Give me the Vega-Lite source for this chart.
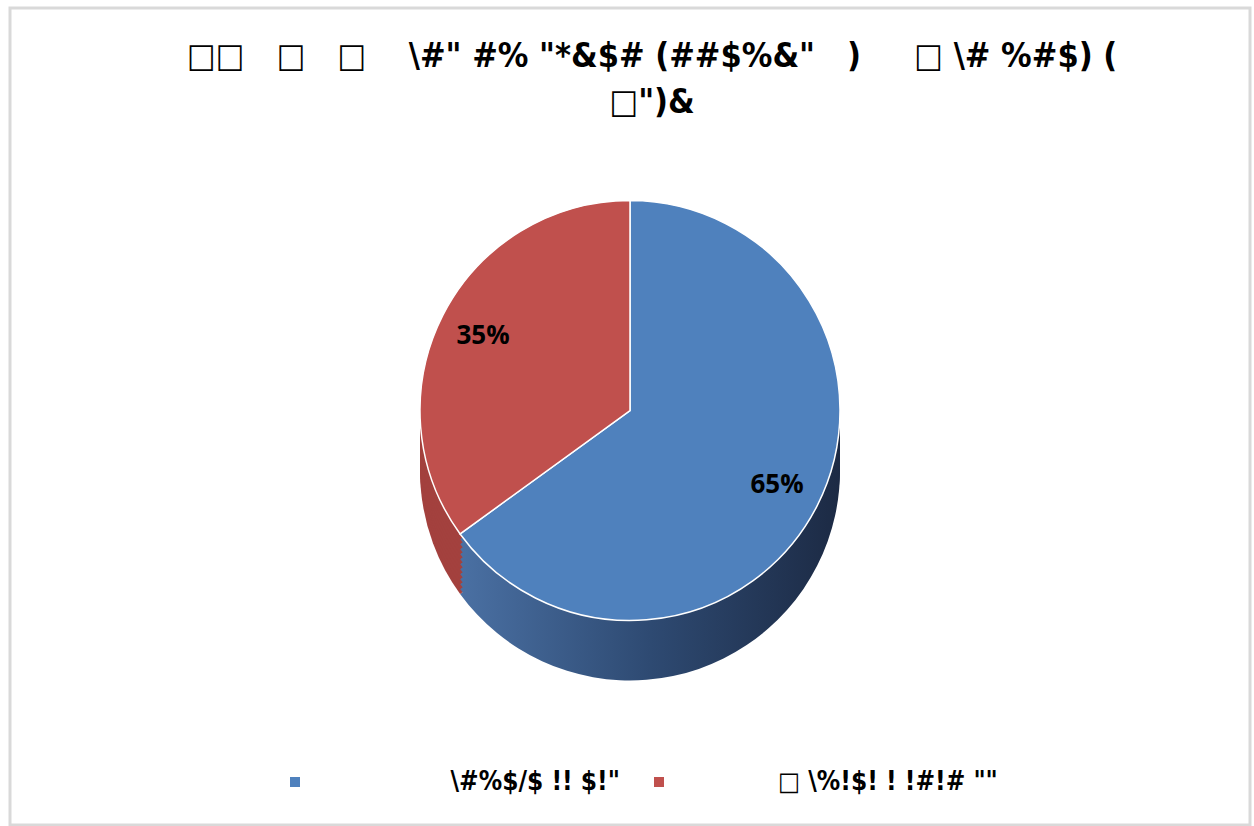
{
  "$schema": "https://vega.github.io/schema/vega-lite/v6.json",
  "width": 1254,
  "height": 826,
  "autosize": {"type": "fit", "contains": "padding"},
  "padding": {"left": 10, "top": 8, "right": 4, "bottom": 1},
  "background": "white",
  "view": {"stroke": "#D9D9D9", "strokeWidth": 3, "fill": "white"},
  "title": {
    "text": ["□□\u00a0\u00a0\u00a0□\u00a0\u00a0\u00a0□\u00a0\u00a0\u00a0\u00a0\\#\"\u00a0#%\u00a0\"*&$#\u00a0(##$%&\"\u00a0\u00a0\u00a0)\u00a0\u00a0\u00a0\u00a0\u00a0□\u00a0\\#\u00a0%#$)\u00a0(", "□\")&"],
    "font": "DejaVu Sans Condensed",
    "fontSize": 34,
    "fontWeight": "bold",
    "color": "black",
    "anchor": "middle",
    "lineHeight": 46,
    "offset": -112,
    "dx": 22
  },
  "data": {
    "values": [
      {"ord": 1, "label": "\u2800\u2800\\#%$/$\u00a0!!\u00a0$!\"", "value": 65, "pct": "65%"},
      {"ord": 2, "label": "□\u00a0\\%!$!\u00a0!\u00a0!#!#\u00a0\"\"", "value": 35, "pct": "35%"}
    ]
  },
  "layer": [
    {"mark": {"type": "arc", "radius": 210, "yOffset": 54}, "encoding": {"theta": {"field": "value", "type": "quantitative", "stack": true}, "order": {"field": "ord"}, "fill": {"condition": {"test": "datum.ord === 2", "value": "#A3413E"}, "value": {"gradient": "linear", "x1": 0, "x2": 1, "y1": 0, "y2": 0, "stops": [{"offset": 0, "color": "#4A70A3"}, {"offset": 0.5, "color": "#2E4A72"}, {"offset": 1, "color": "#1C2A44"}]}}}},
    {"mark": {"type": "arc", "radius": 210, "yOffset": 49}, "encoding": {"theta": {"field": "value", "type": "quantitative", "stack": true}, "order": {"field": "ord"}, "fill": {"condition": {"test": "datum.ord === 2", "value": "#A3413E"}, "value": {"gradient": "linear", "x1": 0, "x2": 1, "y1": 0, "y2": 0, "stops": [{"offset": 0, "color": "#4A70A3"}, {"offset": 0.5, "color": "#2E4A72"}, {"offset": 1, "color": "#1C2A44"}]}}}},
    {"mark": {"type": "arc", "radius": 210, "yOffset": 44}, "encoding": {"theta": {"field": "value", "type": "quantitative", "stack": true}, "order": {"field": "ord"}, "fill": {"condition": {"test": "datum.ord === 2", "value": "#A3413E"}, "value": {"gradient": "linear", "x1": 0, "x2": 1, "y1": 0, "y2": 0, "stops": [{"offset": 0, "color": "#4A70A3"}, {"offset": 0.5, "color": "#2E4A72"}, {"offset": 1, "color": "#1C2A44"}]}}}},
    {"mark": {"type": "arc", "radius": 210, "yOffset": 39}, "encoding": {"theta": {"field": "value", "type": "quantitative", "stack": true}, "order": {"field": "ord"}, "fill": {"condition": {"test": "datum.ord === 2", "value": "#A3413E"}, "value": {"gradient": "linear", "x1": 0, "x2": 1, "y1": 0, "y2": 0, "stops": [{"offset": 0, "color": "#4A70A3"}, {"offset": 0.5, "color": "#2E4A72"}, {"offset": 1, "color": "#1C2A44"}]}}}},
    {"mark": {"type": "arc", "radius": 210, "yOffset": 34}, "encoding": {"theta": {"field": "value", "type": "quantitative", "stack": true}, "order": {"field": "ord"}, "fill": {"condition": {"test": "datum.ord === 2", "value": "#A3413E"}, "value": {"gradient": "linear", "x1": 0, "x2": 1, "y1": 0, "y2": 0, "stops": [{"offset": 0, "color": "#4A70A3"}, {"offset": 0.5, "color": "#2E4A72"}, {"offset": 1, "color": "#1C2A44"}]}}}},
    {"mark": {"type": "arc", "radius": 210, "yOffset": 29}, "encoding": {"theta": {"field": "value", "type": "quantitative", "stack": true}, "order": {"field": "ord"}, "fill": {"condition": {"test": "datum.ord === 2", "value": "#A3413E"}, "value": {"gradient": "linear", "x1": 0, "x2": 1, "y1": 0, "y2": 0, "stops": [{"offset": 0, "color": "#4A70A3"}, {"offset": 0.5, "color": "#2E4A72"}, {"offset": 1, "color": "#1C2A44"}]}}}},
    {"mark": {"type": "arc", "radius": 210, "yOffset": 24}, "encoding": {"theta": {"field": "value", "type": "quantitative", "stack": true}, "order": {"field": "ord"}, "fill": {"condition": {"test": "datum.ord === 2", "value": "#A3413E"}, "value": {"gradient": "linear", "x1": 0, "x2": 1, "y1": 0, "y2": 0, "stops": [{"offset": 0, "color": "#4A70A3"}, {"offset": 0.5, "color": "#2E4A72"}, {"offset": 1, "color": "#1C2A44"}]}}}},
    {"mark": {"type": "arc", "radius": 210, "yOffset": 19}, "encoding": {"theta": {"field": "value", "type": "quantitative", "stack": true}, "order": {"field": "ord"}, "fill": {"condition": {"test": "datum.ord === 2", "value": "#A3413E"}, "value": {"gradient": "linear", "x1": 0, "x2": 1, "y1": 0, "y2": 0, "stops": [{"offset": 0, "color": "#4A70A3"}, {"offset": 0.5, "color": "#2E4A72"}, {"offset": 1, "color": "#1C2A44"}]}}}},
    {"mark": {"type": "arc", "radius": 210, "yOffset": 14}, "encoding": {"theta": {"field": "value", "type": "quantitative", "stack": true}, "order": {"field": "ord"}, "fill": {"condition": {"test": "datum.ord === 2", "value": "#A3413E"}, "value": {"gradient": "linear", "x1": 0, "x2": 1, "y1": 0, "y2": 0, "stops": [{"offset": 0, "color": "#4A70A3"}, {"offset": 0.5, "color": "#2E4A72"}, {"offset": 1, "color": "#1C2A44"}]}}}},
    {"mark": {"type": "arc", "radius": 210, "yOffset": 9}, "encoding": {"theta": {"field": "value", "type": "quantitative", "stack": true}, "order": {"field": "ord"}, "fill": {"condition": {"test": "datum.ord === 2", "value": "#A3413E"}, "value": {"gradient": "linear", "x1": 0, "x2": 1, "y1": 0, "y2": 0, "stops": [{"offset": 0, "color": "#4A70A3"}, {"offset": 0.5, "color": "#2E4A72"}, {"offset": 1, "color": "#1C2A44"}]}}}},
    {"mark": {"type": "arc", "radius": 210, "yOffset": 4}, "encoding": {"theta": {"field": "value", "type": "quantitative", "stack": true}, "order": {"field": "ord"}, "fill": {"condition": {"test": "datum.ord === 2", "value": "#A3413E"}, "value": {"gradient": "linear", "x1": 0, "x2": 1, "y1": 0, "y2": 0, "stops": [{"offset": 0, "color": "#4A70A3"}, {"offset": 0.5, "color": "#2E4A72"}, {"offset": 1, "color": "#1C2A44"}]}}}},
    {"mark": {"type": "arc", "radius": 210, "yOffset": -1}, "encoding": {"theta": {"field": "value", "type": "quantitative", "stack": true}, "order": {"field": "ord"}, "fill": {"condition": {"test": "datum.ord === 2", "value": "#A3413E"}, "value": {"gradient": "linear", "x1": 0, "x2": 1, "y1": 0, "y2": 0, "stops": [{"offset": 0, "color": "#4A70A3"}, {"offset": 0.5, "color": "#2E4A72"}, {"offset": 1, "color": "#1C2A44"}]}}}},
    {
      "mark": {"type": "arc", "radius": 210, "yOffset": -6, "stroke": "white", "strokeWidth": 1.5},
      "encoding": {
        "theta": {"field": "value", "type": "quantitative", "stack": true},
        "order": {"field": "ord"},
        "color": {
          "field": "label",
          "type": "nominal",
          "scale": {"domain": ["\u2800\u2800\\#%$/$\u00a0!!\u00a0$!\"", "□\u00a0\\%!$!\u00a0!\u00a0!#!#\u00a0\"\""], "range": ["#4F81BD", "#C0504D"]},
          "legend": {
            "orient": "none",
            "legendX": 272,
            "legendY": 761,
            "direction": "horizontal",
            "columns": 2,
            "title": null,
            "symbolType": "square",
            "symbolSize": 100,
            "symbolStrokeWidth": 0,
            "labelFont": "DejaVu Sans Condensed",
            "labelFontSize": 26,
            "labelFontWeight": "bold",
            "labelColor": "black",
            "labelOffset": 106,
            "labelLimit": 0,
            "columnPadding": 26
          }
        }
      }
    },
    {
      "mark": {"type": "text", "radius": 165, "yOffset": -6, "font": "Open Sans", "fontSize": 26, "fontWeight": "bold", "color": "black"},
      "encoding": {
        "theta": {"field": "value", "type": "quantitative", "stack": true},
        "order": {"field": "ord"},
        "text": {"field": "pct"}
      }
    }
  ]
}
